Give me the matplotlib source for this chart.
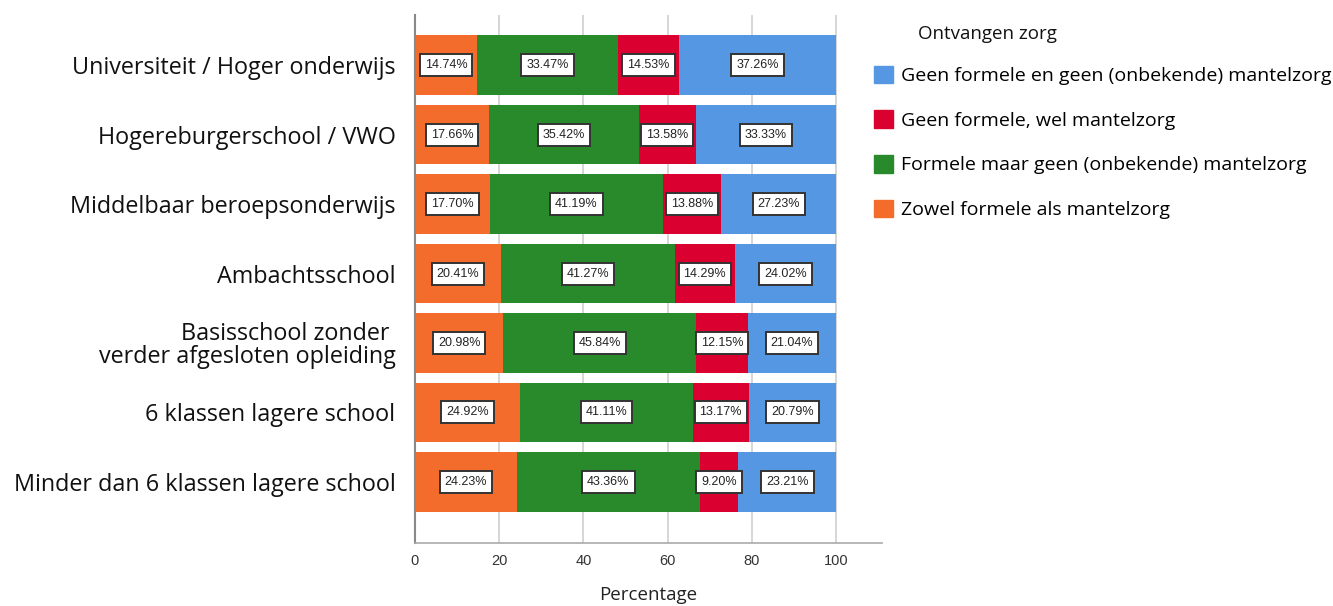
import matplotlib
matplotlib.use("Agg")
import matplotlib.pyplot as plt
import matplotlib.transforms as mtransforms
from matplotlib.patches import Patch
import numpy as np

categories = [
    "Universiteit / Hoger onderwijs",
    "Hogereburgerschool / VWO",
    "Middelbaar beroepsonderwijs",
    "Ambachtsschool",
    "Basisschool zonder \nverder afgesloten opleiding",
    "6 klassen lagere school",
    "Minder dan 6 klassen lagere school",
]
zowel = [14.74, 17.66, 17.70, 20.41, 20.98, 24.92, 24.23]
formeel = [33.47, 35.42, 41.19, 41.27, 45.84, 41.11, 43.36]
mantel = [14.53, 13.58, 13.88, 14.29, 12.15, 13.17, 9.20]
geen = [37.26, 33.33, 27.23, 24.02, 21.04, 20.79, 23.21]

series_names = [
    "Zowel formele als mantelzorg",
    "Formele maar geen (onbekende) mantelzorg",
    "Geen formele, wel mantelzorg",
    "Geen formele en geen (onbekende) mantelzorg",
]
series = [zowel, formeel, mantel, geen]
colors = ["#F46C2C", "#288A2A", "#DA0030", "#5597E3"]

fig = plt.figure(figsize=(13.33, 6.06), dpi=100)
ax = fig.add_axes([0.3113, 0.104, 0.3504, 0.871])

y = np.arange(len(categories))
left = np.zeros(len(categories))
for vals, col in zip(series, colors):
    vals = np.array(vals)
    ax.barh(y, vals, left=left, height=0.86, color=col, zorder=2)
    for yi, l, v in zip(y, left, vals):
        ax.text(l + v / 2, yi, f"{v:.2f}%", ha="center", va="center",
                fontsize=9, family="Liberation Sans", color="#222222", zorder=3,
                bbox=dict(boxstyle="square,pad=0.4", fc="white", ec="#333333", lw=1.4))
    left = left + vals

ax.set_xlim(0, 110.9)
ax.set_ylim(6.88, -0.72)
ax.set_xticks([0, 20, 40, 60, 80, 100])
ax.set_xticklabels(["0", "20", "40", "60", "80", "100"], family="Liberation Sans",
                   fontsize=10.5, color="#333333")
ax.set_yticks(y)
ax.set_yticklabels(categories, family="Open Sans", fontsize=16.8, color="#111111",
                   linespacing=0.95)
offset = mtransforms.ScaledTranslation(0, 3 / 100, fig.dpi_scale_trans)
for t in ax.get_yticklabels():
    t.set_transform(t.get_transform() + offset)
ax.tick_params(axis="both", length=0)
ax.tick_params(axis="y", pad=14)
ax.tick_params(axis="x", pad=8)
ax.xaxis.grid(True, color="#d0d0d0", lw=1.2, zorder=0)
ax.set_axisbelow(True)
for s in ["top", "right"]:
    ax.spines[s].set_visible(False)
ax.spines["left"].set_color("#888888")
ax.spines["left"].set_linewidth(1.5)
ax.spines["bottom"].set_color("#aaaaaa")
ax.spines["bottom"].set_linewidth(1.2)
ax.set_xlabel("Percentage", family="Open Sans", fontsize=13.5, labelpad=13, color="#222222")

fig.text(918 / 1333, 1 - 34 / 606, "Ontvangen zorg", family="Open Sans", fontsize=13.5,
         ha="left", va="center", color="#111111")

handles = [Patch(color=colors[i]) for i in [3, 2, 1, 0]]
labels = [series_names[i] for i in [3, 2, 1, 0]]
leg = fig.legend(handles, labels, loc="upper left",
                 bbox_to_anchor=(0.644, 0.917), frameon=False,
                 prop=dict(family="Open Sans", size=14),
                 handlelength=1.0, handleheight=1.0, labelspacing=1.3, handletextpad=0.4,
                 borderpad=0.3)

fig.savefig("out.png", dpi=100)
